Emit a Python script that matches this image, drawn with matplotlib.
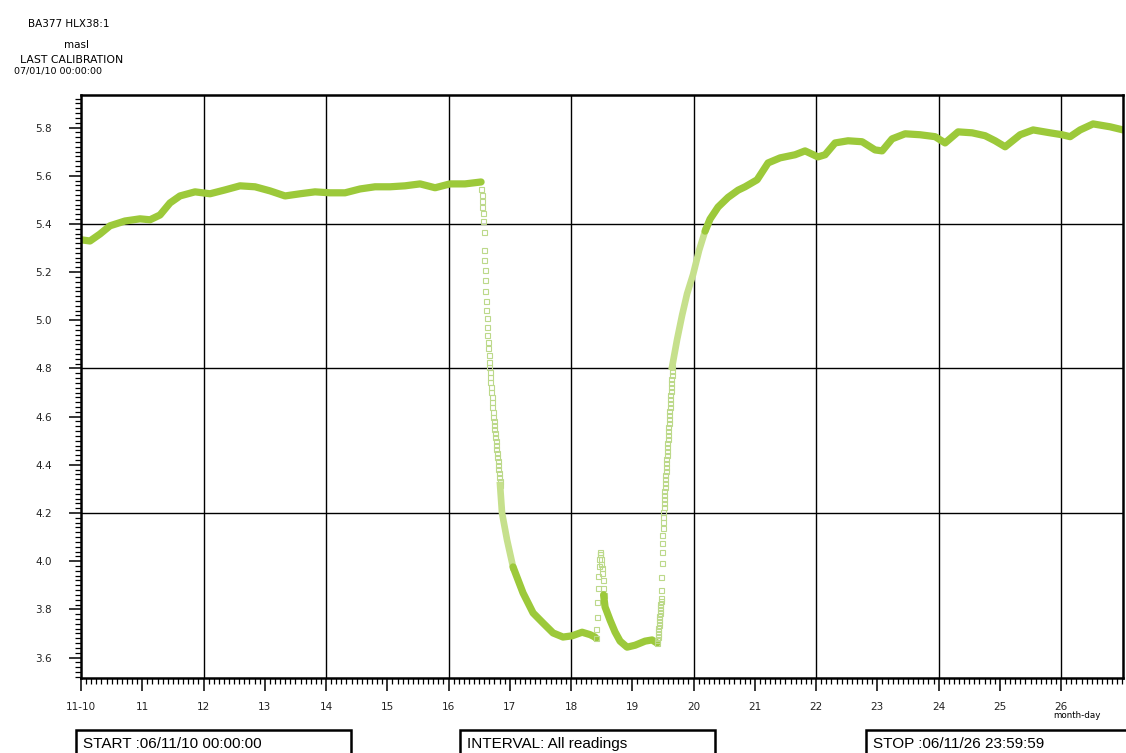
import numpy as np
import matplotlib
matplotlib.use("Agg")
import matplotlib.pyplot as plt
from matplotlib.patches import Rectangle
from matplotlib.ticker import FixedLocator, MultipleLocator

# --- water level readings (masl), time in days of November ---
# steady period before pump start
steady1_day = [10.0, 10.147, 10.31, 10.473, 10.718, 10.963, 11.127, 11.29, 11.453, 11.616,
               11.861, 12.106, 12.351, 12.596, 12.841, 13.086, 13.331, 13.576, 13.82, 14.065,
               14.31, 14.555, 14.8, 15.045, 15.29, 15.535, 15.78, 16.024, 16.269, 16.531]
steady1_lvl = [5.334, 5.329, 5.358, 5.392, 5.412, 5.421, 5.417, 5.437, 5.487, 5.516,
               5.533, 5.525, 5.541, 5.558, 5.554, 5.537, 5.516, 5.525, 5.533, 5.529,
               5.529, 5.545, 5.554, 5.554, 5.558, 5.566, 5.55, 5.566, 5.566, 5.574]

# fast drawdown, single readings
drop_day = [16.535, 16.541, 16.547, 16.554, 16.560, 16.566, 16.572, 16.578, 16.585, 16.591,
            16.597, 16.603, 16.609, 16.616, 16.622, 16.628, 16.634, 16.640, 16.647, 16.653,
            16.659, 16.665, 16.671, 16.678, 16.684, 16.690, 16.696, 16.702, 16.709, 16.715,
            16.721, 16.727, 16.734, 16.740, 16.747, 16.754, 16.761, 16.767, 16.774, 16.781,
            16.787, 16.794, 16.801, 16.807, 16.814, 16.821, 16.828, 16.834, 16.841]
drop_lvl = [5.544, 5.520, 5.493, 5.472, 5.444, 5.410, 5.368, 5.292, 5.250, 5.209,
            5.167, 5.123, 5.081, 5.043, 5.008, 4.973, 4.939, 4.911, 4.884, 4.856,
            4.828, 4.807, 4.787, 4.766, 4.745, 4.724, 4.704, 4.683, 4.662, 4.641,
            4.621, 4.600, 4.582, 4.565, 4.549, 4.532, 4.515, 4.499, 4.482, 4.466,
            4.449, 4.432, 4.416, 4.399, 4.383, 4.366, 4.349, 4.333, 4.316]

drop_tail_day = [16.841, 16.873, 16.955, 17.053]
drop_tail_lvl = [4.316, 4.200, 4.088, 3.976]

low1_day = [17.053, 17.216, 17.38, 17.543, 17.706, 17.869, 18.016, 18.18, 18.31, 18.39, 18.408]
low1_lvl = [3.976, 3.868, 3.785, 3.743, 3.702, 3.685, 3.690, 3.705, 3.695, 3.685, 3.680]

# short recovery spike
spike_day = [18.408, 18.415, 18.422, 18.430, 18.437, 18.444, 18.451, 18.459, 18.466, 18.473,
             18.480, 18.488, 18.495, 18.502, 18.509, 18.517, 18.524, 18.531]
spike_lvl = [3.68, 3.72, 3.77, 3.83, 3.89, 3.94, 3.98, 4.01, 4.03, 4.04,
             4.03, 4.01, 3.99, 3.97, 3.95, 3.92, 3.89, 3.86]

low2_day = [18.531, 18.555, 18.637, 18.718, 18.80, 18.914, 19.045, 19.208, 19.322, 19.404]
low2_lvl = [3.86, 3.81, 3.755, 3.706, 3.668, 3.643, 3.651, 3.668, 3.673, 3.66]

# recovery after pump stop, single readings
rise_day = [19.405, 19.409, 19.413, 19.417, 19.421, 19.425, 19.429, 19.433, 19.437, 19.441,
            19.445, 19.449, 19.453, 19.457, 19.461, 19.465, 19.469, 19.473, 19.477, 19.481,
            19.485, 19.489, 19.493, 19.497, 19.501, 19.505, 19.509, 19.513, 19.517, 19.521,
            19.525, 19.529, 19.533, 19.537, 19.541, 19.545, 19.549, 19.553, 19.557, 19.561,
            19.565, 19.569, 19.573, 19.577, 19.581, 19.585, 19.589, 19.593, 19.597, 19.601,
            19.605, 19.609, 19.613, 19.617, 19.621, 19.625, 19.629, 19.633, 19.637, 19.641,
            19.645, 19.649]
rise_lvl = [3.660, 3.672, 3.684, 3.697, 3.709, 3.722, 3.735, 3.747, 3.760, 3.772,
            3.785, 3.797, 3.810, 3.822, 3.834, 3.847, 3.880, 3.934, 3.992, 4.038,
            4.075, 4.108, 4.138, 4.163, 4.183, 4.204, 4.225, 4.241, 4.258, 4.275,
            4.291, 4.308, 4.324, 4.341, 4.358, 4.374, 4.391, 4.407, 4.424, 4.441,
            4.457, 4.474, 4.491, 4.507, 4.524, 4.540, 4.557, 4.574, 4.590, 4.607,
            4.623, 4.640, 4.657, 4.673, 4.690, 4.706, 4.723, 4.740, 4.756, 4.773,
            4.790, 4.806]

rise_tail_day = [19.649, 19.731, 19.812, 19.894, 19.992, 20.09, 20.188]
rise_tail_lvl = [4.806, 4.92, 5.02, 5.11, 5.19, 5.29, 5.37]

steady2_day = [20.188, 20.269, 20.4, 20.563, 20.727, 20.841, 21.037, 21.216, 21.412, 21.657,
               21.82, 22.029, 22.147, 22.31, 22.522, 22.751, 22.963, 23.078, 23.241, 23.453,
               23.698, 23.943, 24.106, 24.318, 24.547, 24.759, 24.922, 25.086, 25.331, 25.543,
               25.82, 26.016, 26.147, 26.31, 26.522, 26.8, 27.012]
steady2_lvl = [5.37, 5.42, 5.47, 5.51, 5.54, 5.554, 5.583, 5.653, 5.674, 5.687,
               5.703, 5.678, 5.687, 5.736, 5.745, 5.741, 5.707, 5.703, 5.753, 5.774,
               5.77, 5.762, 5.736, 5.782, 5.778, 5.766, 5.745, 5.72, 5.77, 5.79,
               5.778, 5.77, 5.762, 5.79, 5.815, 5.803, 5.79]

day_ticks = list(range(10, 27))
day_labels = ["11-10"] + [str(d) for d in range(11, 27)]
grid_days = [12, 14, 16, 18, 20, 22, 24, 26]
grid_levels = [4.2, 4.8, 5.4]

LINE = "#9cc93a"
LIGHT = "#c6e08c"
MARK = "#bcd98a"

W, H = 1126, 753
fig = plt.figure(figsize=(W / 100, H / 100), dpi=100)
ax = fig.add_axes([81 / W, 1 - 678 / H, (1123 - 81) / W, (678 - 95) / H])

for d in grid_days:
    ax.axvline(d, color="black", lw=1.0, zorder=1)
for lv in grid_levels:
    ax.axhline(lv, color="black", lw=1.0, zorder=1)

band = dict(color=LINE, lw=5.2, solid_capstyle="round", solid_joinstyle="round", zorder=3)
dots = dict(ls="none", marker="s", ms=3.6, mfc="none", mec=MARK, mew=0.8, zorder=3)

# dense logging looks like a solid band, fast changes show single readings
ax.plot(steady1_day, steady1_lvl, **band)
ax.plot(drop_day, drop_lvl, **dots)
ax.plot(drop_tail_day, drop_tail_lvl, color=LIGHT, lw=4.8, solid_joinstyle="round", zorder=3)
ax.plot(low1_day, low1_lvl, **band)
ax.plot(spike_day, spike_lvl, **dots)
ax.plot(low2_day, low2_lvl, **band)
ax.plot(rise_day, rise_lvl, **dots)
ax.plot(rise_tail_day, rise_tail_lvl, color=LIGHT, lw=4.8, solid_joinstyle="round", zorder=3)
ax.plot(steady2_day, steady2_lvl, **band)

ax.set_xlim(10, 27.01)
ax.set_ylim(3.515, 5.935)

ax.xaxis.set_major_locator(FixedLocator(day_ticks))
ax.set_xticklabels(day_labels)
ax.xaxis.set_minor_locator(MultipleLocator(1 / 12))
ax.yaxis.set_major_locator(MultipleLocator(0.2))
ax.yaxis.set_minor_locator(MultipleLocator(0.02))
ax.yaxis.set_major_formatter(lambda v, p: f"{v:.1f}")

ax.tick_params(axis="both", which="major", direction="out", length=9, width=1.1,
               labelsize=7.5, colors="black", labelcolor="#222222")
ax.tick_params(axis="x", which="major", pad=8)
ax.tick_params(axis="y", which="major", pad=12)
ax.tick_params(axis="both", which="minor", direction="out", length=4.5, width=0.9)

for s in ax.spines.values():
    s.set_linewidth(1.8)
    s.set_zorder(4)

# header
fig.text(69 / W, 1 - 24 / H, "BA377 HLX38:1", ha="center", va="center", fontsize=7.5)
fig.text(77 / W, 1 - 45 / H, "masl", ha="center", va="center", fontsize=7.5)
fig.text(72 / W, 1 - 60 / H, "LAST CALIBRATION", ha="center", va="center", fontsize=7.8)
fig.text(58 / W, 1 - 71 / H, "07/01/10 00:00:00", ha="center", va="center", fontsize=6.8)
fig.text(1077 / W, 1 - 716 / H, "month-day", ha="center", va="center", fontsize=6.3)

# footer boxes
boxes = [(76, 351, "START :06/11/10 00:00:00"),
         (460, 715, "INTERVAL: All readings"),
         (866, 1140, "STOP :06/11/26 23:59:59")]
for x0, x1, label in boxes:
    fig.patches.append(Rectangle((x0 / W, -0.05), (x1 - x0) / W, 0.05 + (753 - 730) / H,
                                 transform=fig.transFigure, fill=False, lw=1.8,
                                 edgecolor="black"))
    fig.text((x0 + 7) / W, 1 - 744 / H, label, ha="left", va="center", fontsize=11,
             family="Liberation Sans")

fig.savefig("out.png", dpi=100)
